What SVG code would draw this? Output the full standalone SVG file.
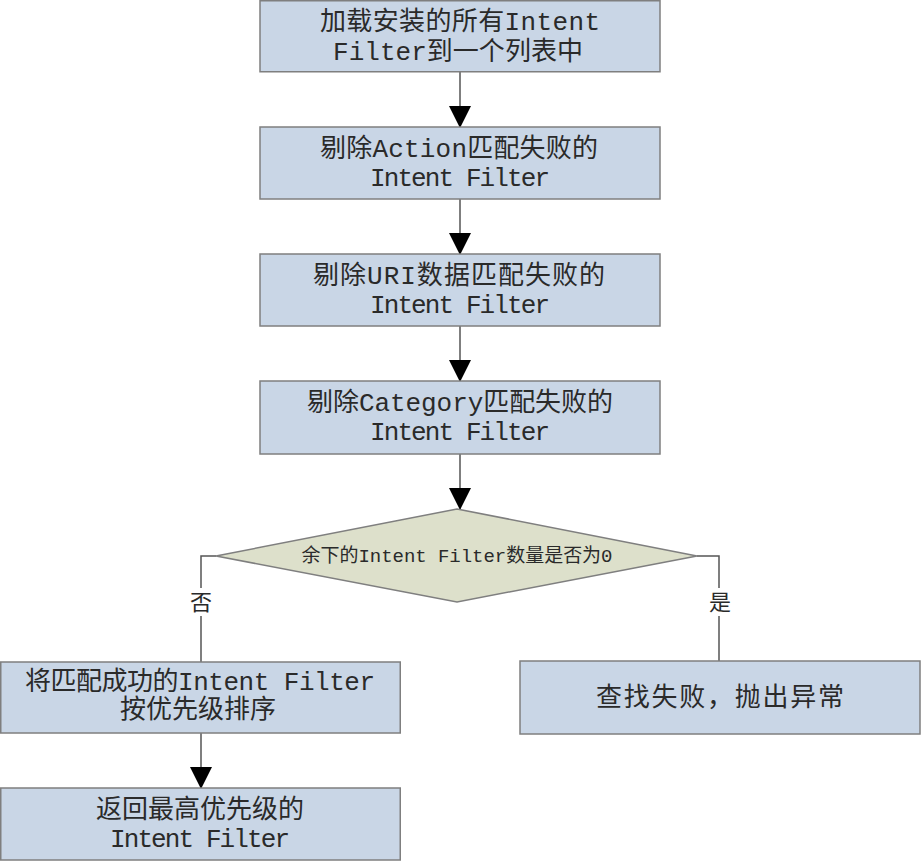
<svg xmlns="http://www.w3.org/2000/svg" width="921" height="861" viewBox="0 0 921 861">
<style>
.box{fill:#c9d6e6;stroke:#7f7f7f;stroke-width:1.5}
.dia{fill:#dde0cb;stroke:#7f7f7f;stroke-width:1.5}
.t{font-family:"Liberation Mono","Noto Sans CJK SC",monospace;font-size:26px;fill:#2a2a2a;text-anchor:middle}
.s{font-size:19px}
.lbl{font-family:"Noto Sans CJK SC",sans-serif;font-size:22px;fill:#2a2a2a;text-anchor:middle}
.c{fill:none;stroke:#555;stroke-width:1.5}
</style>
<defs>
<marker id="ah" markerUnits="userSpaceOnUse" markerWidth="22" markerHeight="24" refX="21" refY="11" orient="auto">
<path d="M0,0 L22,11 L0,22 Z" fill="#000"/>
</marker>
</defs>
<rect width="921" height="861" fill="#fff"/>
<g id="connectors">
<line class="c" x1="460" y1="72" x2="460" y2="127" marker-end="url(#ah)"/>
<line class="c" x1="460" y1="199" x2="460" y2="254" marker-end="url(#ah)"/>
<line class="c" x1="460" y1="326" x2="460" y2="381" marker-end="url(#ah)"/>
<line class="c" x1="460" y1="454" x2="460" y2="509" marker-end="url(#ah)"/>
<polyline class="c" points="216,556 201,556 201,588"/>
<line class="c" x1="201" y1="616" x2="201" y2="662"/>
<polyline class="c" points="697,556 719,556 719,588"/>
<line class="c" x1="719" y1="616" x2="719" y2="661"/>
<line class="c" x1="201" y1="733" x2="201" y2="788" marker-end="url(#ah)"/>
<text class="lbl" x="201" y="610">否</text>
<text class="lbl" x="720" y="610">是</text>
</g>
<g id="n1">
<rect class="box" x="260" y="0.75" width="400" height="71"/>
<text class="t" x="460" y="30" textLength="280">加载安装的所有Intent</text>
<text class="t" x="458" y="60" textLength="250">Filter到一个列表中</text>
</g>
<g id="n2">
<rect class="box" x="260" y="127" width="400" height="72"/>
<text class="t" x="459" y="157" textLength="278">剔除Action匹配失败的</text>
<text class="t" x="460" y="186" textLength="180">Intent Filter</text>
</g>
<g id="n3">
<rect class="box" x="260" y="254" width="400" height="72"/>
<text class="t" x="459" y="284" textLength="292">剔除URI数据匹配失败的</text>
<text class="t" x="460" y="313" textLength="180">Intent Filter</text>
</g>
<g id="n4">
<rect class="box" x="260" y="381" width="400" height="73"/>
<text class="t" x="460" y="411" textLength="306">剔除Category匹配失败的</text>
<text class="t" x="460" y="440" textLength="180">Intent Filter</text>
</g>
<g id="n5">
<polygon class="dia" points="457,509 697,556 457,602 216,556"/>
<text class="t s" x="457" y="562" textLength="311">余下的Intent Filter数量是否为0</text>
</g>
<g id="n6">
<rect class="box" x="0.75" y="662" width="399.5" height="71"/>
<text class="t" x="200" y="690" textLength="350">将匹配成功的Intent Filter</text>
<text class="t" x="198" y="718">按优先级排序</text>
</g>
<g id="n7">
<rect class="box" x="0.75" y="788" width="399.5" height="72"/>
<text class="t" x="200" y="818">返回最高优先级的</text>
<text class="t" x="200" y="847" textLength="180">Intent Filter</text>
</g>
<g id="n8">
<rect class="box" x="520" y="661" width="400" height="73"/>
<text class="t" x="720" y="706" textLength="248">查找失败，抛出异常</text>
</g>
</svg>
